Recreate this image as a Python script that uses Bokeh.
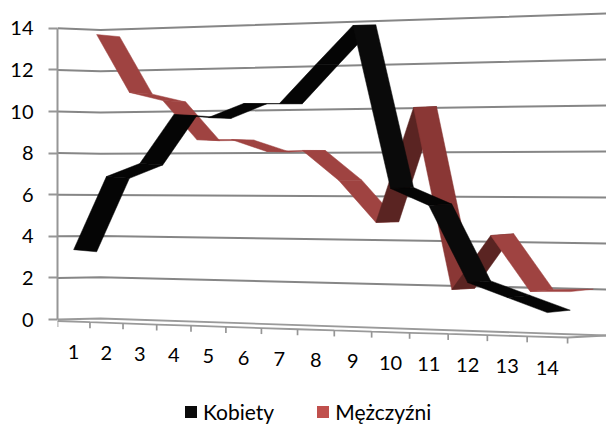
from bokeh.core.properties import value
from bokeh.embed import file_html
from bokeh.models import FixedTicker, Legend, LegendItem, LinearAxis, Range1d
from bokeh.plotting import figure
from bokeh.resources import INLINE

categories = list(range(1, 15))
kobiety = [3.32, 6.89, 7.52, 9.85, 9.69, 10.33, 10.30, 12.08, 13.83, 6.36, 5.60, 2.16, 1.54, 0.92]
mezczyzni = [13.79, 10.95, 10.53, 8.65, 8.64, 8.07, 8.11, 6.72, 4.81, 10.03, 1.83, 4.28, 1.83, 1.87]
value_ticks = list(range(0, 15, 2))

FONT = "Lato"
GRID = "#868686"
AXIS = "#969696"
TEXT = "#000000"
RED_LEGEND = "#c0504d"
BLACK_LEGEND = "#0a0a0a"

# Perspective of the 3D box, in screen pixels.
LEFT_WALL, RIGHT_EDGE = 57, 606
BASE_Y = 319
UNIT_Y = 20.8
DEPTH_STEP = 23
NOWHERE = float("nan")


def to_y(pixel_y):
    return (BASE_Y - pixel_y) / UNIT_Y


def cat_x(u):
    return LEFT_WALL + 32.15 * u + 0.306 * u * u


def wall_pixel_y(x, v):
    t = (x - 100) / 506
    return 318 + 17 * t - v * (20.6 + 2.4 * t)


def ribbon_point(index, v, depth):
    x = cat_x(index + 0.5) + depth * DEPTH_STEP
    return x, wall_pixel_y(x, v)


p = figure(width=606, height=424, output_backend="svg", toolbar_location=None,
           x_axis_type=None, y_axis_type=None,
           x_range=Range1d(LEFT_WALL, RIGHT_EDGE),
           y_range=Range1d(to_y(424), to_y(0)),
           min_border_left=LEFT_WALL, min_border_right=0, min_border_top=0, min_border_bottom=0,
           outline_line_color=None, background_fill_color="white", border_fill_color="white")
p.grid.visible = False

# Back-wall gridlines
for v in value_ticks[1:]:
    xs = [LEFT_WALL, 100, RIGHT_EDGE]
    ys = [v, to_y(wall_pixel_y(100, v)), to_y(wall_pixel_y(RIGHT_EDGE, v))]
    p.line(xs, ys, line_color=GRID, line_width=2)

# Floor: rear edge, front edge and category ticks
floor_rear_x = [LEFT_WALL, 100, RIGHT_EDGE]
floor_rear_y = [0, to_y(wall_pixel_y(100, 0)), to_y(wall_pixel_y(RIGHT_EDGE, 0))]
p.line(floor_rear_x, floor_rear_y, line_color="#9a9a9a", line_width=1.8)


def front_floor_pixel_y(u):
    return 320.5 + 16.5 * u / 14


tick_units = list(range(0, 15))
tick_xs = [cat_x(u) for u in tick_units]
p.line(tick_xs + [RIGHT_EDGE],
       [to_y(front_floor_pixel_y(u)) for u in tick_units] + [to_y(wall_pixel_y(RIGHT_EDGE, 0))],
       line_color="#9a9a9a", line_width=1.8)
p.segment(tick_xs, [to_y(front_floor_pixel_y(u)) for u in tick_units],
          tick_xs, [to_y(front_floor_pixel_y(u) + 6) for u in tick_units],
          line_color=AXIS, line_width=1.7)


def draw_ribbon(values, depth, rising, falling, flat):
    tilt = lambda i: 2.5 - 0.35 * (i + 1)
    for i in range(len(values) - 1):
        x0, y0 = ribbon_point(i, values[i], depth)
        x1, y1 = ribbon_point(i + 1, values[i + 1], depth)
        x2, y2 = ribbon_point(i + 1, values[i + 1], depth + 1)
        x3, y3 = ribbon_point(i, values[i], depth + 1)
        y2, y3 = y1 + tilt(i + 1), y0 + tilt(i)
        delta = values[i + 1] - values[i]
        color = rising if delta > 0.5 else falling if delta < -3 else flat
        p.patch([x0, x1, x2, x3], [to_y(y0), to_y(y1), to_y(y2), to_y(y3)],
                fill_color=color, line_color=color, line_width=0.5)


# The men's ribbon sits one depth step behind the women's.
draw_ribbon(mezczyzni, 1, "#5a2422", "#8a3735", "#9f4341")
draw_ribbon(kobiety, 0, "#050505", "#0a0a0a", "#050505")

# Category labels drift downward with the floor.
p.text([cat_x(c - 0.5) for c in categories],
       [to_y(351 + 16 * (c - 1) / 13) for c in categories],
       text=[str(c) for c in categories], text_font=value(FONT), text_font_size="20px",
       text_color=TEXT, text_align="center", text_baseline="middle")

# Value axis on the left wall
axis = LinearAxis(ticker=FixedTicker(ticks=value_ticks), bounds=(0, 14))
axis.axis_line_color = AXIS
axis.axis_line_width = 2
axis.major_tick_line_color = AXIS
axis.major_tick_line_width = 2
axis.major_tick_out = 9
axis.major_tick_in = 0
axis.minor_tick_line_color = None
axis.major_label_standoff = 15
axis.major_label_text_font = FONT
axis.major_label_text_font_size = "20px"
axis.major_label_text_color = TEXT
p.add_layout(axis, "left")

# Legend swatches: the quads themselves lie outside the frame.
black_swatch = p.quad(left=[NOWHERE], right=[NOWHERE], top=[NOWHERE], bottom=[NOWHERE],
                      fill_color=BLACK_LEGEND, line_color=None)
red_swatch = p.quad(left=[NOWHERE], right=[NOWHERE], top=[NOWHERE], bottom=[NOWHERE],
                    fill_color=RED_LEGEND, line_color=None)
legend = Legend(items=[LegendItem(label="Kobiety", renderers=[black_swatch]),
                       LegendItem(label="Mężczyźni", renderers=[red_swatch])],
                orientation="horizontal", location=(183 - LEFT_WALL, 0),
                glyph_width=15, glyph_height=15, label_standoff=5, spacing=41,
                margin=0, padding=0, background_fill_alpha=0, border_line_color=None,
                label_text_font=FONT, label_text_font_size="21px", label_text_color=TEXT,
                label_height=15)
p.add_layout(legend, "center")

open("out.html", "w").write(file_html(p, INLINE))
